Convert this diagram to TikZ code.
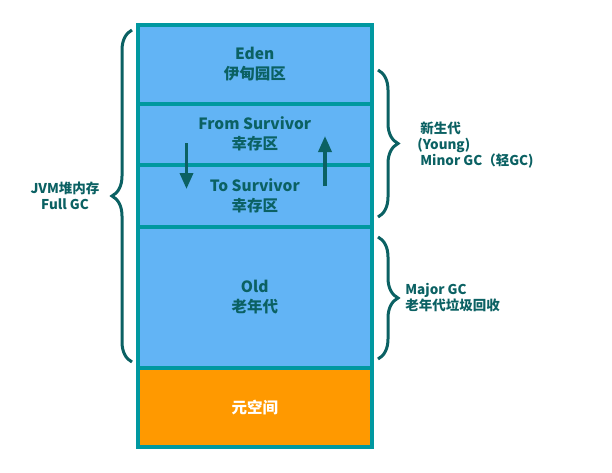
\documentclass[tikz,border=0pt]{standalone}
\usepackage{fontspec}
\setmainfont{Noto Sans CJK SC}
\usetikzlibrary{arrows.meta,decorations.pathreplacing}
\definecolor{rim}{HTML}{0098A0}
\definecolor{heap}{HTML}{62B4F5}
\definecolor{meta}{HTML}{FF9900}
\definecolor{ink}{HTML}{0B6163}
\begin{document}
\begin{tikzpicture}[x=1pt,y=-1pt,thick,
    area/.style={rectangle,draw=rim,line width=4pt,fill=heap,minimum width=233.5pt,text=ink,align=center,inner sep=0pt,font=\fontsize{15.5}{20}\selectfont\bfseries},
    side/.style={text=ink,inner sep=0pt,font=\fontsize{13.5}{16}\selectfont\bfseries},
    curly/.style={draw=ink,line width=3pt,decorate,decoration={brace,amplitude=20pt}},
    move/.style={draw=ink,line width=3.5pt,-{Triangle[width=13pt,length=16pt]}}]
                \useasboundingbox (0,0) rectangle (612,472);
                \node[area,minimum height=78.5pt] at (254.75, 64.25) (eden) {Eden\\伊甸园区};
                \node[area,minimum height=61pt] at (254.75, 134) (from) {From Survivor\\幸存区};
                \node[area,minimum height=62.5pt] at (254.75, 195.75) (to) {To Survivor\\幸存区};
                \node[area,minimum height=140.5pt] at (254.75, 297.25) (old) {Old\\老年代};
                \node[area,minimum height=79.5pt,fill=meta,text=white] at (254.75, 407.25) (metaspace) {元空间};
                \node[side,align=center] at (65, 196) (heaplabel) {JVM堆内存\\Full GC};
                \node[side,align=left,anchor=west] at (417, 145) (younglabel) {\hspace{3pt}新生代\\(Young)\\\hspace{3pt}Minor GC（轻GC)};
                \node[side,align=left,anchor=west] at (405, 298) (oldlabel) {Major GC\\老年代垃圾回收};
                \coordinate (downtop) at (186.5, 143);
                \coordinate (downend) at (186.5, 189);
                \coordinate (uptop) at (325, 186);
                \coordinate (upend) at (325, 136);
                \coordinate (hb) at (132, 362);
                \coordinate (ht) at (132, 30);
                \coordinate (yt) at (378, 70);
                \coordinate (yb) at (378, 217);
                \coordinate (ot) at (378, 237);
                \coordinate (ob) at (378, 359);
                \draw[move] (downtop) -- (downend);
                \draw[move] (uptop) -- (upend);
                \draw[curly] (hb) -- (ht);
                \draw[curly] (yt) -- (yb);
                \draw[curly] (ot) -- (ob);

            \end{tikzpicture}
\end{document}
